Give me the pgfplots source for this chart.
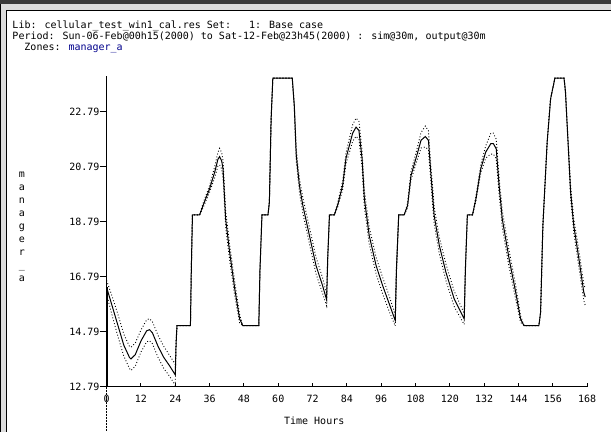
\documentclass[border=0pt]{standalone}
\usepackage{fontspec}
\setmainfont{DejaVu Sans Mono}
\usepackage{pgfplots}
\pgfplotsset{compat=1.18}
\usepackage{pgfplotstable}
\definecolor{frameDark}{RGB}{58,58,58}
\definecolor{frameLight}{RGB}{220,220,220}
\definecolor{zoneblue}{RGB}{0,0,140}

% h = hour, v = simulated value, u = upper dotted, l = lower dotted
\pgfplotstableread{
h v u l
0 16.40 16.65 16.15
2 15.70 16.05 15.35
4 15.00 15.40 14.60
6 14.30 14.70 13.90
8 13.85 14.25 13.45
8.5 13.80 14.22 13.38
10 13.95 14.37 13.53
12 14.45 14.85 14.05
14 14.82 15.22 14.42
15 14.86 15.26 14.46
16 14.75 15.15 14.35
18 14.25 14.65 13.85
20 13.85 14.25 13.45
22 13.55 13.93 13.17
24 13.22 13.60 12.84
24.3 14.40 14.50 14.30
24.6 15.01 15.01 15.01
29.3 15.01 15.01 15.01
29.6 17.00 17.00 17.00
30 19.03 19.03 19.03
32.5 19.03 19.03 19.03
33.7 19.37 19.45 19.29
36 19.98 20.10 19.86
37.8 20.59 20.79 20.39
38.9 21.05 21.30 20.80
39.5 21.15 21.45 20.85
40.2 21.00 21.30 20.70
40.7 20.70 21.00 20.40
41.6 18.89 19.19 18.59
43 17.68 17.96 17.40
44.8 16.34 16.59 16.09
46.5 15.25 15.40 15.10
47.6 15.01 15.01 15.01
53.2 15.01 15.01 15.01
53.6 17.00 17.00 17.00
54.3 19.03 19.03 19.03
56.4 19.03 19.03 19.03
56.9 19.50 19.50 19.50
57.5 22.50 22.50 22.50
58.1 24.00 24.00 24.00
64.9 24.00 24.00 24.00
65.6 23.00 23.10 22.90
66.3 21.19 21.39 20.99
67.4 20.10 20.35 19.85
68.6 19.37 19.65 19.09
70.9 18.28 18.58 17.98
73.2 17.19 17.49 16.89
75.5 16.46 16.74 16.18
76.9 15.95 16.17 15.73
77.3 17.50 17.60 17.40
77.9 19.03 19.03 19.03
79.6 19.03 19.03 19.03
80.8 19.40 19.48 19.32
82.5 20.10 20.25 19.95
83.7 21.10 21.30 20.90
86 22.00 22.30 21.70
87.2 22.22 22.55 21.89
88.2 22.10 22.43 21.77
89.3 21.07 21.37 20.77
90.1 19.62 19.92 19.32
91.8 18.28 18.58 17.98
94.2 17.19 17.49 16.89
96.5 16.46 16.76 16.16
98.8 15.80 16.08 15.52
100.9 15.19 15.39 14.99
101.3 17.00 17.10 16.90
102.1 19.03 19.03 19.03
104 19.03 19.03 19.03
105.2 19.37 19.45 19.29
106.4 20.46 20.61 20.31
108.1 21.07 21.27 20.87
109.9 21.74 22.02 21.46
111.4 21.88 22.26 21.50
112.5 21.74 22.09 21.39
113.4 20.46 20.76 20.16
114.5 19.01 19.31 18.71
116.3 17.92 18.22 17.62
118.6 16.95 17.25 16.65
121.5 15.98 16.26 15.70
125 15.25 15.45 15.05
125.4 17.00 17.10 16.90
126.1 19.03 19.03 19.03
127.9 19.03 19.03 19.03
129.1 19.62 19.70 19.54
130.8 20.71 20.86 20.56
132.5 21.31 21.53 21.09
134.3 21.62 22.00 21.24
135.2 21.62 22.00 21.24
136.2 21.43 21.78 21.08
137.2 20.10 20.40 19.80
138.3 18.89 19.19 18.59
140.7 17.43 17.73 17.13
143 16.22 16.47 15.97
144.7 15.25 15.37 15.13
145.9 15.01 15.01 15.01
151.1 15.01 15.01 15.01
151.7 15.49 15.49 15.49
152.5 18.64 18.64 18.64
154 21.68 21.68 21.68
155.2 23.25 23.25 23.25
156.7 24.00 24.00 24.00
159.9 24.00 24.00 24.00
160.4 23.50 23.55 23.45
161 22.28 22.38 22.18
162.2 19.86 20.06 19.66
163.3 18.64 18.89 18.39
165.1 17.43 17.73 17.13
166.8 16.22 16.52 15.92
167.3 16.05 16.35 15.75
}\datatable

\begin{document}
\begin{tikzpicture}[font=\fontsize{10}{12}\selectfont]
% window frame
\fill[white] (0pt,0pt) rectangle (611pt,432pt);
\fill[frameDark] (0pt,427.5pt) rectangle (611pt,432pt);
\fill[frameLight] (0pt,421pt) rectangle (611pt,427.5pt);
\fill[frameLight] (0pt,0pt) rectangle (6.5pt,427.5pt);
\draw[black,line width=1pt] (6.5pt,0pt) -- (6.5pt,421.5pt) -- (611pt,421.5pt);
\draw[black,line width=1pt] (0.5pt,0pt) -- (0.5pt,427.5pt);

\begin{axis}[
  at={(106.7pt,45pt)}, anchor=south west,
  scale only axis, width=481pt, height=310.7pt,
  xmin=0, xmax=168, ymin=12.79, ymax=24.07,
  axis x line*=bottom, axis y line*=left,
  axis line style={-, line width=1pt, black},
  xtick={0,12,24,36,48,60,72,84,96,108,120,132,144,156,168},
  xticklabels={0,12,24,36,48,60,72,84,96,108,120,132,144,156,168},
  ytick={12.79,14.79,16.79,18.79,20.79,22.79},
  yticklabels={12.79,14.79,16.79,18.79,20.79,22.79},
  xtick align=inside, ytick align=outside,
  major tick length=7pt,
  xtick style={black, line width=1pt, dash pattern=on 3.5pt off 20pt},
  ytick style={black, line width=1pt},
  xticklabel style={anchor=base, inner sep=0pt, yshift=-16.3pt},
  yticklabel style={anchor=east, inner sep=0pt},
  xlabel={Time Hours},
  xlabel style={at={(axis description cs:0.432,0)}, anchor=base, yshift=-38pt, inner sep=0pt},
  clip=false,
]
\addplot[black, line width=1pt] table[x=h,y=v]{\datatable};
\addplot[black, line width=0.9pt, dash pattern=on 0.9pt off 2.1pt] table[x=h,y=u]{\datatable};
\addplot[black, line width=0.9pt, dash pattern=on 0.9pt off 2.1pt] table[x=h,y=l]{\datatable};
\addplot[black, line width=2pt] coordinates {(0,16.40) (0,12.79)};
\addplot[black, line width=1pt, dash pattern=on 2pt off 1pt] coordinates {(0,12.79) (0,11.17)};
\end{axis}

% header
\node[anchor=base west, inner sep=0pt] at (12.3pt,403.5pt) {Lib: cellular\_test\_win1\_cal.res Set:\ \ \ 1: Base case};
\node[anchor=base west, inner sep=0pt] at (12.3pt,392.5pt) {Period: Sun-06-Feb@00h15(2000) to Sat-12-Feb@23h45(2000) : sim@30m, output@30m};
\node[anchor=base west, inner sep=0pt] at (24.3pt,381.5pt) {Zones: \textcolor{zoneblue}{manager\_a}};

% vertical y label
\foreach \c [count=\i from 0] in {m,a,n,a,g,e,r,\_,a}
  \node[anchor=base, inner sep=0pt] at (22pt,{254.7pt-13.05pt*\i}) {\c};
\end{tikzpicture}
\end{document}
